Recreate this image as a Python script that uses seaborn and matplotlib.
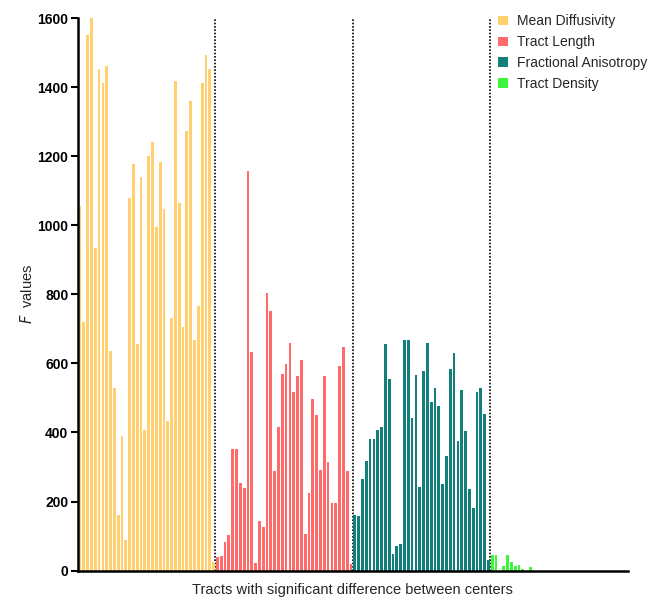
import pandas as pd
import matplotlib.pyplot as plt
import seaborn as sns
from matplotlib.patches import Patch

# F values per tract (36 slots per measure)
groups = ["Mean Diffusivity", "Tract Length", "Fractional Anisotropy", "Tract Density"]
colors = ["#FFCF70", "#FF6B6B", "#137F7B", "#3CF53C"]

mean_diffusivity = [1056, 719, 1551, 1600, 934, 1452, 1413, 1460, 635, 528, 162, 391,
                    89, 1080, 1176, 657, 1141, 407, 1199, 1240, 995, 1182, 1047, 434,
                    730, 1417, 1063, 705, 1274, 1360, 667, 766, 1411, 1492, 1452, 26]
tract_length = [40, 41, 83, 104, 352, 352, 254, 238, 1156, 632, 23, 143,
                127, 803, 753, 287, 416, 569, 599, 660, 518, 564, 611, 107,
                225, 497, 450, 290, 562, 313, 196, 196, 591, 646, 289, 18]
fractional_anisotropy = [160, 157, 266, 317, 381, 381, 407, 415, 657, 555, 48, 72,
                         77, 667, 667, 441, 566, 242, 577, 660, 487, 529, 478, 251,
                         331, 585, 630, 376, 523, 403, 236, 181, 518, 528, 452, 31]
tract_density = [45, 45, 0, 14, 45, 26, 14, 15, 6, 0, 11, 0,
                 0, 0, 0, 0, 0, 0, 0, 0, 0, 0, 0, 0,
                 0, 0, 0, 0, 0, 0, 0, 0, 0, 0, 0, 0]

series = [mean_diffusivity, tract_length, fractional_anisotropy, tract_density]

rows = []
for g, vals in zip(groups, series):
    for v in vals:
        rows.append({"slot": len(rows), "value": v, "group": g})
df = pd.DataFrame(rows)

sns.set_style("ticks")
plt.rcParams["font.family"] = ["Liberation Sans", "DejaVu Sans"]

fig = plt.figure(figsize=(6.56, 6.0), dpi=100)
ax = fig.add_axes([0.119, 0.049, 0.838, 0.921])

sns.barplot(data=df, x="slot", y="value", hue="group", hue_order=groups,
            palette=colors, saturation=1, dodge=False, width=0.72, linewidth=0,
            legend=False, ax=ax)

# dotted separators between the four measures
n = len(mean_diffusivity)
for k in range(1, 4):
    ax.axvline(k * n - 0.5, color="black", linestyle=(0, (1, 1)), linewidth=1.2, zorder=0)

ax.set_xlim(-0.5, len(df) - 0.5)
ax.set_ylim(0, 1600)
ax.set_yticks(range(0, 1601, 200))
ax.set_xticks([])
for lbl in ax.get_yticklabels():
    lbl.set_fontweight("bold")
ax.tick_params(axis="y", labelsize=10, width=1.5, length=5, pad=2, colors="black")
ax.set_ylabel("$\\mathit{F}$  values", fontsize=10.5, labelpad=2)
ax.set_xlabel("Tracts with significant difference between centers", fontsize=10.5, labelpad=9)
sns.despine(ax=ax)
for s in ["left", "bottom"]:
    ax.spines[s].set_linewidth(1.8)
    ax.spines[s].set_color("black")

handles = [Patch(facecolor=c, edgecolor="none") for c in colors]
fig.legend(handles, groups, loc="upper right", bbox_to_anchor=(1.005, 0.997),
           frameon=False, fontsize=10, handlelength=0.7, handleheight=0.7,
           handletextpad=0.6, labelspacing=0.5)

fig.savefig("out.png", dpi=100)
